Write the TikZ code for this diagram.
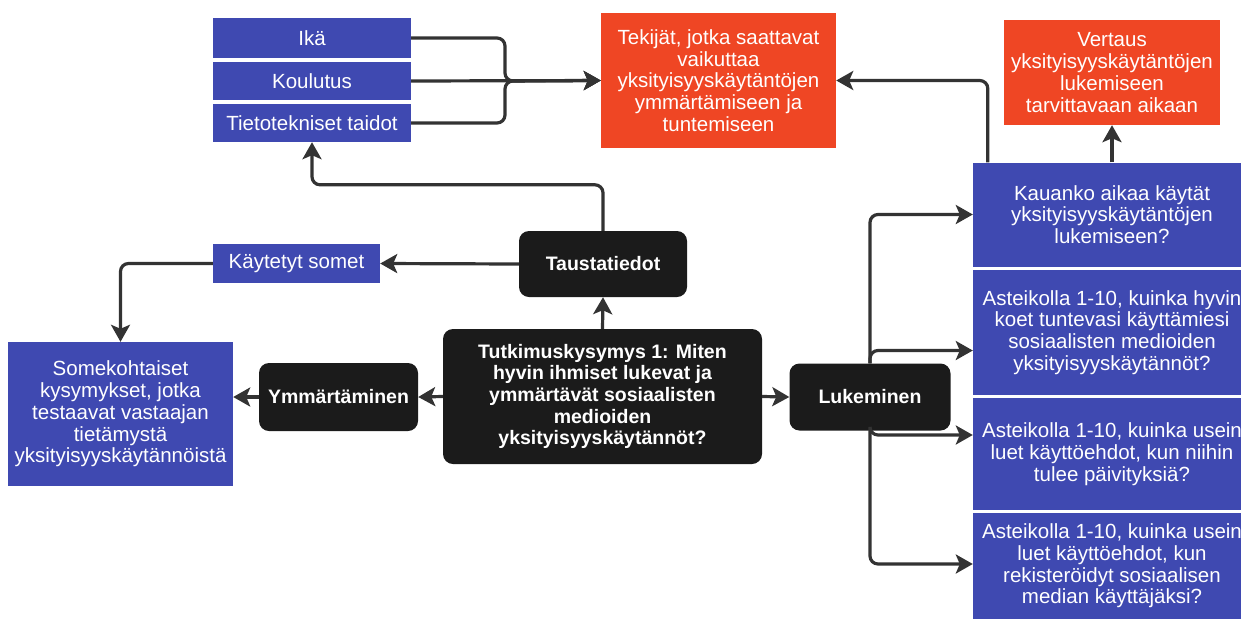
\documentclass[tikz,border=0pt]{standalone}
\usepackage{fontspec}
\setmainfont{Liberation Sans}
\usetikzlibrary{arrows.meta}
\definecolor{boxblue}{HTML}{3F49B1}
\definecolor{boxred}{HTML}{EF4624}
\definecolor{boxblack}{HTML}{1B1B1B}
\definecolor{linegray}{HTML}{333333}

\begin{document}
\begin{tikzpicture}[x=1pt, y=-1pt,
  every node/.style={text=white, align=center, inner sep=0pt,
    font=\fontsize{20.5}{21.7}\selectfont},
  bluebox/.style={fill=boxblue},
  redbox/.style={fill=boxred},
  topic/.style={fill=boxblack, rounded corners=10pt,
    font=\fontsize{19.5}{21.7}\selectfont\bfseries},
  conn/.style={draw=linegray, line width=3.2pt, rounded corners=8pt,
    -{Stealth[length=17pt, width=19pt, inset=4pt]}}]
\useasboundingbox (0,0) rectangle (1241,619);

% taustatiedot
\node[bluebox, minimum width=198pt, minimum height=40pt] (ika) at (312,38) {Ikä};
\node[bluebox, minimum width=198pt, minimum height=38pt] (koul) at (312,81) {Koulutus};
\node[bluebox, minimum width=198pt, minimum height=38pt] (tieto) at (312,123) {Tietotekniset taidot};
\node[redbox, minimum width=235pt, minimum height=135pt] (tekijat) at (718.5,80.5)
  {Tekijät, jotka saattavat\\vaikuttaa\\yksityisyyskäytäntöjen\\ymmärtämiseen ja\\tuntemiseen};
\node[bluebox, minimum width=167pt, minimum height=39pt] (somet) at (296.5,263.5) {Käytetyt somet};
\node[bluebox, minimum width=225pt, minimum height=144pt] (somek) at (120.5,414)
  {Somekohtaiset\\kysymykset, jotka\\testaavat vastaajan\\tietämystä\\yksityisyyskäytännöistä};

% keskiosa
\node[topic, minimum width=168pt, minimum height=66pt] (tausta) at (603,264) {Taustatiedot};
\node[topic, minimum width=319pt, minimum height=135pt] (kysymys) at (602.5,396.5)
  {Tutkimuskysymys 1: Miten\\hyvin ihmiset lukevat ja\\ymmärtävät sosiaalisten\\medioiden\\yksityisyyskäytännöt?};
\node[topic, minimum width=159pt, minimum height=68pt] (ymm) at (338.5,397) {Ymmärtäminen};
\node[topic, minimum width=161pt, minimum height=67pt] (luke) at (870,397) {Lukeminen};

% lukeminen
\node[redbox, minimum width=216pt, minimum height=105pt] (vertaus) at (1112,72.5)
  {Vertaus\\yksityisyyskäytäntöjen\\lukemiseen\\tarvittavaan aikaan};
\node[bluebox, minimum width=278pt, minimum height=104pt] (kauanko) at (1112,214.5)
  {Kauanko aikaa käytät\\yksityisyyskäytäntöjen\\lukemiseen?};
\node[bluebox, minimum width=278pt, minimum height=125pt] (hyvin) at (1112,332.5)
  {Asteikolla 1-10, kuinka hyvin\\koet tuntevasi käyttämiesi\\sosiaalisten medioiden\\yksityisyyskäytännöt?};
\node[bluebox, minimum width=278pt, minimum height=112pt] (usein) at (1112,454)
  {Asteikolla 1-10, kuinka usein\\luet käyttöehdot, kun niihin\\tulee päivityksiä?};
\node[bluebox, minimum width=278pt, minimum height=106pt] (rek) at (1112,566)
  {Asteikolla 1-10, kuinka usein\\luet käyttöehdot, kun\\rekisteröidyt sosiaalisen\\median käyttäjäksi?};

\coordinate (yhdys) at (505,81);
\draw[conn] (ika.east) -| (yhdys) -- (tekijat.west);
\draw[conn] (tieto.east) -| (yhdys) -- (tekijat.west);
\draw[conn] (koul.east) -- (tekijat.west);

\draw[conn] (tausta.north) -- ++(0,-46) -| (tieto.south);
\draw[conn] (tausta.west) -- (somet.east);
\draw[conn] (somet.west) -| (somek.north);
\draw[conn] (kysymys.north) -- (tausta.south);
\draw[conn] (kysymys.west) -- (ymm.east);
\draw[conn] (ymm.west) -- (somek.east |- ymm.west);
\draw[conn] (kysymys.east) -- (luke.west);

\draw[conn] (luke.north) |- (kauanko.west);
\draw[conn] (luke.north) |- ([yshift=-18pt]hyvin.west);
\draw[conn] (luke.south) |- ([yshift=19pt]usein.west);
\draw[conn] (luke.south) |- ([yshift=2pt]rek.west);

\draw[conn] ([xshift=15pt]kauanko.north west) |- (tekijat.east);
\draw[conn] (kauanko.north -| vertaus.south) -- (vertaus.south);
\end{tikzpicture}
\end{document}
